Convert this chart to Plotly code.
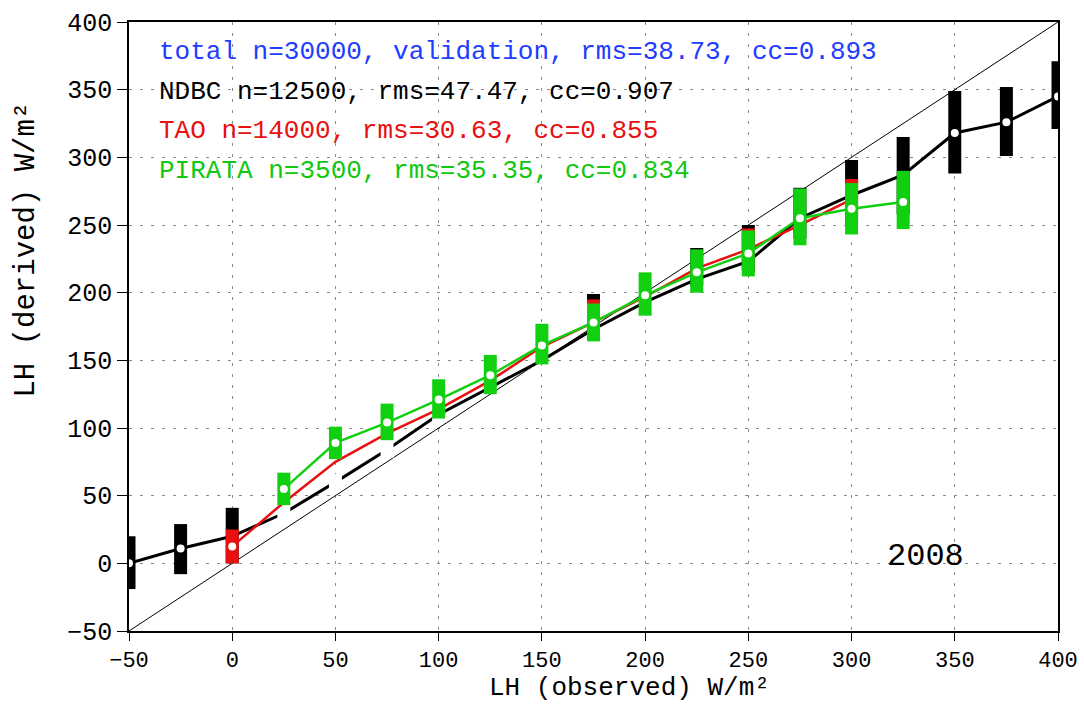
import plotly.graph_objects as go

# Bin centres of observed latent heat flux (W/m^2)
bins = [-50, -25, 0, 25, 50, 75, 100, 125, 150, 175, 200, 225, 250, 275, 300, 325, 350, 375, 400]

# NDBC: bin means and box ranges of derived LH
ndbc_mean = [0, 11, 20, 37, 60, 84, 110, 130, 150, 173, 193, 210, 223, 255, 272, 287, 318, 326, 345]
ndbc_lo = [-19, -8, 0, 31, 54, 78, 104, None, None, 168, None, 205, 216, 240, 250, 258, 288, 301, 321]
ndbc_hi = [20, 29, 41, 43, 66, 90, 116, None, None, 199, None, 233, 250, 277.5, 298, 315, 349, 352, 371]
ndbc_blank_bins = [25, 50, 75, 100]  # boxes left blank in these bins

# TAO
tao_mean = [None, None, 12.5, 45, 75, 96, 114, 135, 160, 178, 197, 218, 232, 250, 269, None, None, None, None]
tao_lo = [None, None, 0, None, None, None, None, None, None, 170, None, None, 218, None, 255, None, None, None, None]
tao_hi = [None, None, 25, None, None, None, None, None, None, 195, None, None, 247.5, None, 284, None, None, None, None]

# PIRATA
pirata_mean = [None, None, None, 55, 89, 104, 121, 139, 161, 178, 198, 215, 229, 255, 262, 267, None, None, None]
pirata_lo = [None, None, None, 43, 77, 91, 107, 125, 147, 164, 183, 200, 212, 235, 243, 247, None, None, None]
pirata_hi = [None, None, None, 67, 101, 118, 136, 154, 177, 192, 215, 232, 246, 277, 281, 290, None, None, None]

stats_lines = [
    ("total n=30000, validation, rms=38.73, cc=0.893", "#1e3cff"),
    ("NDBC n=12500, rms=47.47, cc=0.907", "#000000"),
    ("TAO n=14000, rms=30.63, cc=0.855", "#e81010"),
    ("PIRATA n=3500, rms=35.35, cc=0.834", "#10c810"),
]
year_label = "2008"
x_title = "LH (observed) W/m²"
y_title = "LH (derived) W/m²"

axis_range = [-50, 400]
FONT = "Liberation Mono"
BOX_W = 13


def box_segments(xs, lo, hi, keep=lambda x: True):
    sx, sy = [], []
    for x, a, b in zip(xs, lo, hi):
        if a is None or b is None or not keep(x):
            continue
        sx += [x, x, None]
        sy += [a, b, None]
    return sx, sy


def marker_points(xs, mean, lo, skip=()):
    px, py = [], []
    for x, m, a in zip(xs, mean, lo):
        if m is not None and a is not None and x not in skip:
            px.append(x)
            py.append(m)
    return px, py


fig = go.Figure()

# 1:1 reference line
fig.add_trace(go.Scatter(x=axis_range, y=axis_range, mode="lines",
                         line=dict(color="black", width=1), hoverinfo="skip"))


def add_series(mean, lo, hi, color, lw, blank_bins=()):
    fig.add_trace(go.Scatter(x=bins, y=mean, mode="lines",
                             line=dict(color=color, width=lw)))
    if blank_bins:
        bx, by = box_segments(bins, lo, hi, keep=lambda x: x in blank_bins)
        fig.add_trace(go.Scatter(x=bx, y=by, mode="lines",
                                 line=dict(color="white", width=BOX_W)))
    bx, by = box_segments(bins, lo, hi, keep=lambda x: x not in blank_bins)
    fig.add_trace(go.Scatter(x=bx, y=by, mode="lines",
                             line=dict(color=color, width=BOX_W)))
    mx, my = marker_points(bins, mean, lo, skip=blank_bins)
    fig.add_trace(go.Scatter(x=mx, y=my, mode="markers",
                             marker=dict(color="white", size=8, line=dict(width=0))))


add_series(ndbc_mean, ndbc_lo, ndbc_hi, "#000000", 3, ndbc_blank_bins)
add_series(tao_mean, tao_lo, tao_hi, "#e81010", 2.5)
add_series(pirata_mean, pirata_lo, pirata_hi, "#10d010", 2.5)

annotations = []
row_y = [0.951, 0.885, 0.821, 0.755]
for (txt, col), yy in zip(stats_lines, row_y):
    annotations.append(dict(text=txt, x=0.030, y=yy, xref="paper", yref="paper",
                            xanchor="left", yanchor="middle", showarrow=False,
                            font=dict(family=FONT, size=26, color=col)))
annotations.append(dict(text=year_label, x=0.857, y=0.123, xref="paper", yref="paper",
                        xanchor="center", yanchor="middle", showarrow=False,
                        font=dict(family=FONT, size=32, color="black")))
# axis titles
annotations.append(dict(text=x_title, x=0.539, y=-0.0936, xref="paper", yref="paper",
                        xanchor="center", yanchor="middle", showarrow=False,
                        font=dict(family=FONT, size=26, color="black")))
annotations.append(dict(text=y_title, x=-0.110, y=0.626, xref="paper", yref="paper",
                        xanchor="center", yanchor="middle", showarrow=False, textangle=-90,
                        font=dict(family=FONT, size=29, color="black")))

grid = dict(showgrid=True, gridcolor="#8a8a8a", gridwidth=1, griddash="3px,8px",
            zeroline=False, showline=True, mirror=True, linecolor="black", linewidth=1.5,
            ticks="outside", tickcolor="black", range=axis_range, dtick=50, tick0=-50,
            automargin=False)

fig.update_layout(
    width=1084, height=706,
    margin=dict(l=129, r=26, t=22, b=75),
    paper_bgcolor="white", plot_bgcolor="white",
    showlegend=False,
    annotations=annotations,
    xaxis=dict(**grid, ticklen=8, tickfont=dict(family=FONT, size=22, color="black")),
    yaxis=dict(**grid, ticklen=10, tickfont=dict(family=FONT, size=25, color="black")),
)

fig.write_html("out.html")
